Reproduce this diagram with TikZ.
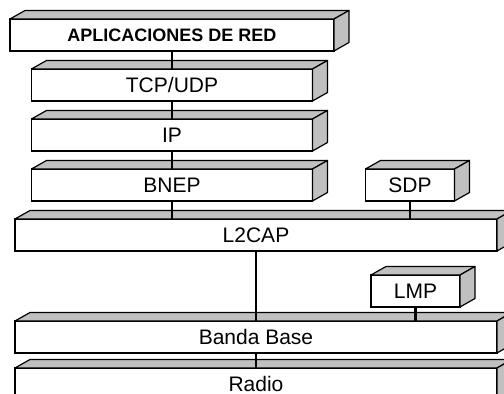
\documentclass[tikz,border=0pt]{standalone}
\usepackage{fontspec}
\setsansfont{Liberation Sans}
\usetikzlibrary{positioning}
\definecolor{sidegray}{RGB}{192,192,192}

\begin{document}
\begin{tikzpicture}[x=1pt, y=1pt, node distance=18pt,
    layer/.style={draw, fill=white, line width=1.6pt, outer sep=0pt, inner sep=0pt,
        minimum height=32pt, text height=15pt, text depth=0pt,
        font=\sffamily\fontsize{21}{24}\selectfont},
    face/.style={draw, fill=sidegray, line width=1.2pt, line join=round},
    link/.style={line width=2.8pt}]
    \clip (0,0) rectangle (504,394);

    % protocol stack
    \node [layer, minimum width=324pt, text height=13pt, font=\sffamily\bfseries\fontsize{18}{21}\selectfont] (app) at (172,359) {APLICACIONES DE RED};
    \node [layer, minimum width=281pt, below=of app] (tcp) {TCP/UDP};
    \node [layer, minimum width=281pt, below=of tcp] (ip) {IP};
    \node [layer, minimum width=281pt, below=of ip] (bnep) {BNEP};
    \node [layer, minimum width=89pt, right=53pt of bnep] (sdp) {SDP};
    \node [layer, minimum width=482pt] (l2cap) at (256,159) {L2CAP};
    \node [layer, minimum width=482pt, below=70pt of l2cap] (banda) {Banda Base};
    \node [layer, minimum width=89pt] (lmp) at (415.5,103) {LMP};
    \node [layer, minimum width=482pt, below=15pt of banda] (radio) {Radio};

    % top and side of each block
    \foreach \n in {app,tcp,ip,bnep,sdp,l2cap,lmp,banda,radio} {
        \draw [face] (\n.north west) -- ++(15,8.5) -- ([shift={(15,8.5)}]\n.north east) -- (\n.north east) -- cycle;
        \draw [face] (\n.north east) -- ++(15,8.5) -- ([shift={(15,8.5)}]\n.south east) -- (\n.south east) -- cycle;
    }

    \draw [link] (app.south) -- (tcp.north);
    \draw [link] (tcp.south) -- (ip.north);
    \draw [link] (ip.south) -- (bnep.north);
    \draw [link] (bnep.south) -- (bnep.south |- l2cap.north);
    \draw [link] (sdp.south) -- (sdp.south |- l2cap.north);
    \draw [link] (l2cap.south) -- (banda.north);
    \draw [link] (lmp.south) -- (lmp.south |- banda.north);
    \draw [link] (banda.south) -- (radio.north);
\end{tikzpicture}
\end{document}
